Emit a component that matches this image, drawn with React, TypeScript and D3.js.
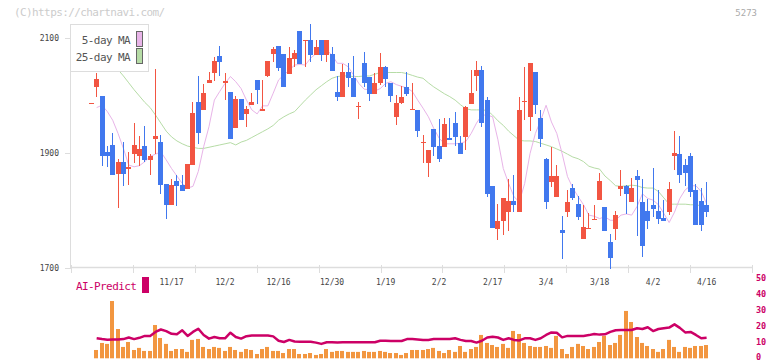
import React from 'react';
import * as d3 from 'd3';

// trading days, 10/24 .. 4/16
const dates = [
  '10/24', '10/27', '10/28', '10/29', '10/30', '10/31', '11/4', '11/5', '11/6', '11/7',
  '11/10', '11/11', '11/12', '11/13', '11/14', '11/17', '11/18', '11/19', '11/20', '11/21',
  '11/25', '11/26', '11/27', '11/28', '12/1', '12/2', '12/3', '12/4', '12/5', '12/8',
  '12/9', '12/10', '12/11', '12/12', '12/15', '12/16', '12/17', '12/18', '12/19', '12/22',
  '12/23', '12/24', '12/25', '12/26', '12/29', '12/30', '1/5', '1/6', '1/7', '1/8',
  '1/9', '1/13', '1/14', '1/15', '1/16', '1/19', '1/20', '1/21', '1/22', '1/23',
  '1/26', '1/27', '1/28', '1/29', '1/30', '2/2', '2/3', '2/4', '2/5', '2/6',
  '2/9', '2/10', '2/12', '2/13', '2/16', '2/17', '2/18', '2/19', '2/20', '2/24',
  '2/25', '2/26', '2/27', '3/2', '3/3', '3/4', '3/5', '3/6', '3/9', '3/10',
  '3/11', '3/12', '3/13', '3/16', '3/17', '3/18', '3/19', '3/23', '3/24', '3/25',
  '3/26', '3/27', '3/30', '3/31', '4/1', '4/2', '4/3', '4/6', '4/7', '4/8',
  '4/9', '4/10', '4/13', '4/14', '4/15', '4/16',
];

const opens = [
  1987, 2014, 1999, 1901, 1914, 1864, 1884, 1873, 1899, 1895,
  1912, 1888, 1924, 1919, 1846, 1810, 1851, 1844, 1838, 1879,
  1989, 1974, 2021, 2040, 2069, 2021, 2006, 1944, 1994, 1968,
  1984, 2027, 1973, 2034, 2073, 2086, 2072, 2038, 2064, 2112,
  2094, 2097, 2071, 2097, 2071, 2072, 2006, 1998, 2041, 2031,
  1980, 2057, 2032, 2003, 2021, 2050, 2022, 1963, 1987, 2015,
  1975, 1975, 1918, 1883, 1942, 1912, 1911, 1926, 1952, 1917,
  1928, 1986, 2034, 2044, 1992, 1843, 1768, 1781, 1798, 1817,
  1798, 1988, 1963, 2041, 1961, 1890, 1850, 1824, 1766, 1798,
  1839, 1811, 1751, 1768, 1785, 1818, 1806, 1745, 1768, 1837,
  1843, 1815, 1860, 1815, 1799, 1810, 1799, 1787, 1798, 1895,
  1898, 1879, 1895, 1836, 1817, 1810,
];
const highs = [
  1987, 2039, 1999, 1912, 1934, 1890, 1919, 1901, 1952, 1929,
  1947, 1899, 2046, 1931, 1846, 1855, 1861, 1861, 1881, 1989,
  2034, 2020, 2041, 2067, 2086, 2040, 2006, 1999, 1994, 1982,
  2004, 2027, 2027, 2060, 2085, 2086, 2072, 2084, 2079, 2112,
  2097, 2124, 2097, 2097, 2097, 2084, 2034, 2055, 2057, 2069,
  1989, 2076, 2032, 2039, 2074, 2051, 2022, 2001, 2017, 2041,
  2022, 1975, 1931, 1905, 1942, 1959, 1961, 1961, 1971, 1930,
  1982, 2044, 2060, 2051, 1997, 1843, 1811, 1822, 1855, 1862,
  1997, 2050, 2057, 2041, 1975, 1891, 1911, 1879, 1791, 1836,
  1846, 1825, 1810, 1796, 1810, 1866, 1806, 1759, 1799, 1870,
  1845, 1856, 1870, 1855, 1820, 1874, 1836, 1818, 1849, 1938,
  1930, 1890, 1900, 1846, 1839, 1849,
];
const lows = [
  1987, 1997, 1878, 1876, 1861, 1805, 1843, 1845, 1882, 1878,
  1885, 1861, 1899, 1829, 1786, 1810, 1808, 1834, 1838, 1879,
  1916, 1974, 2021, 2026, 2034, 1993, 1925, 1944, 1958, 1946,
  1984, 1986, 1973, 2033, 2059, 2043, 2014, 2038, 2050, 2055,
  2050, 2059, 2071, 2060, 2059, 2043, 1991, 1998, 2014, 1998,
  1959, 2015, 1991, 2003, 2019, 2015, 1988, 1949, 1985, 1999,
  1974, 1928, 1883, 1859, 1895, 1885, 1911, 1923, 1912, 1899,
  1906, 1986, 2008, 1946, 1824, 1770, 1749, 1758, 1765, 1798,
  1798, 1958, 1939, 1968, 1911, 1803, 1841, 1824, 1716, 1789,
  1819, 1784, 1751, 1768, 1784, 1818, 1765, 1699, 1749, 1826,
  1794, 1815, 1756, 1720, 1768, 1789, 1777, 1781, 1793, 1870,
  1848, 1843, 1824, 1775, 1765, 1789,
];
const closes = [
  1987, 2029, 1895, 1894, 1861, 1884, 1864, 1875, 1914, 1907,
  1888, 1895, 1930, 1845, 1810, 1844, 1843, 1834, 1881, 1970,
  1935, 2004, 2027, 2060, 2059, 2025, 1925, 1994, 1958, 1977,
  1989, 2010, 1977, 2060, 2081, 2048, 2015, 2065, 2074, 2055,
  2097, 2071, 2084, 2071, 2097, 2043, 1998, 2041, 2031, 1998,
  1982, 2021, 2003, 2022, 2050, 2028, 2000, 1987, 1997, 2003,
  1977, 1939, 1920, 1905, 1911, 1890, 1950, 1923, 1928, 1899,
  1980, 2004, 2044, 1953, 1829, 1770, 1781, 1822, 1817, 1810,
  1975, 1990, 2057, 1984, 1925, 1814, 1860, 1860, 1761, 1815,
  1821, 1789, 1771, 1770, 1786, 1851, 1765, 1718, 1792, 1843,
  1829, 1839, 1853, 1739, 1781, 1803, 1786, 1782, 1837, 1900,
  1861, 1865, 1833, 1775, 1775, 1798,
];

const ma5 = [
  null, 1979, 1983, 1972, 1957, 1934, 1908, 1879, 1876, 1878,
  1885, 1894, 1898, 1902, 1888, 1873, 1860, 1847, 1839, 1842,
  1868, 1911, 1946, 1992, 2007, 2021, 2033, 2024, 2012, 1992,
  1975, 1968, 1982, 1982, 2004, 2027, 2036, 2044, 2053, 2054,
  2053, 2065, 2073, 2076, 2079, 2070, 2056, 2056, 2050, 2036,
  2021, 2011, 2010, 2008, 2012, 2021, 2024, 2019, 2016, 2013,
  2007, 1992, 1978, 1963, 1943, 1926, 1916, 1916, 1916, 1917,
  1920, 1934, 1952, 1966, 1966, 1963, 1923, 1873, 1847, 1824,
  1815, 1847, 1899, 1934, 1957, 1983, 1954, 1934, 1899, 1859,
  1839, 1824, 1810, 1792, 1790, 1786, 1789, 1783, 1783, 1792,
  1794, 1792, 1807, 1829, 1821, 1818, 1810, 1795, 1779, 1797,
  1821, 1836, 1843, 1843, 1833, 1812,
];
const ma25 = [
  null, null, null, null, 2055, 2045, 2034, 2022, 2010, 1999,
  1988, 1979, 1966, 1952, 1938, 1928, 1921, 1916, 1912, 1910,
  1908, 1908, 1910, 1912, 1914, 1916, 1918, 1914, 1919, 1922,
  1927, 1932, 1937, 1942, 1948, 1957, 1963, 1968, 1972, 1982,
  1992, 2001, 2010, 2017, 2024, 2030, 2033, 2034, 2034, 2033,
  2033, 2034, 2034, 2037, 2040, 2040, 2040, 2040, 2040, 2038,
  2035, 2032, 2030, 2022, 2015, 2009, 2003, 1998, 1992, 1984,
  1977, 1975, 1975, 1975, 1974, 1966, 1956, 1948, 1938, 1930,
  1922, 1921, 1921, 1920, 1917, 1914, 1911, 1907, 1903, 1898,
  1893, 1890, 1885, 1877, 1874, 1872, 1860, 1852, 1843, 1842,
  1843, 1844, 1843, 1840, 1839, 1839, 1833, 1822, 1811, 1811,
  1811, 1811, 1810, 1810, 1808, 1807,
];

const volumes = [
  null, 5.2, 9.6, 9, 35.8, 18.3, 7.1, 10.2, 5.2, 6.5,
  4.6, 4.6, 20.8, 12.7, 9, 4.6, 5.8, 5.8, 4, 11.5,
  12.1, 7.1, 5.8, 7.1, 6.5, 4.6, 7.1, 5.2, 4, 5.8,
  5.2, 2.7, 5.8, 7.1, 4.6, 4.6, 3.3, 5.8, 5.8, 2.7,
  2.7, 3.3, 2.1, 2.7, 5.8, 4, 4.6, 4.6, 4, 4,
  4, 4.6, 4, 4, 4.6, 4, 3.3, 3.3, 2.1, 3.3,
  5.2, 5.2, 5.2, 5.8, 6.5, 4.6, 3.3, 5.2, 4, 7.7,
  4, 5.8, 7.1, 14.6, 9.6, 8.3, 7.1, 9, 6.5, 17.1,
  15.2, 9.6, 7.7, 7.1, 7.1, 7.7, 6.5, 14, 5.8, 2.7,
  7.1, 9, 7.7, 5.8, 7.1, 10.2, 14, 8.3, 9.6, 14.6,
  29.6, 22.7, 13.3, 9.6, 7.7, 5.8, 4, 5.8, 11.5, 7.1,
  4, 7.1, 6.5, 7.7, 7.7, 8.3,
];
const aiPredict = [
  null, 12.5, 12, 11.6, 11.8, 11.8, 12, 13, 12, 12.8,
  14, 14, 16.5, 18, 17, 15.3, 15, 17.5, 14, 16.5,
  18.5, 14.6, 12.3, 13.3, 12.5, 12.5, 16, 13.3, 12.3, 13.8,
  14.2, 14.2, 14.2, 14.2, 13.7, 11, 10.2, 11.5, 10.5, 10.4,
  10.4, 10.4, 9.8, 9, 10, 10, 9.8, 10, 10, 10,
  10, 10, 10, 10, 11, 11, 10.8, 10.8, 10.8, 12,
  12, 11.8, 11.5, 11.5, 12, 12, 12, 12, 12.5, 11.5,
  10.8, 10.8, 9.8, 11, 13, 13.5, 13, 11.5, 12.5, 11.5,
  11.2, 12.5, 12.5, 11.5, 12.5, 14.6, 16.2, 16, 13.1, 14,
  14, 14, 14, 14.5, 15.2, 14.8, 15, 16.5, 17.5, 17.7,
  17.7, 17.7, 18.8, 18.3, 19.4, 17, 18.3, 18.8, 19.2, 21.2,
  19, 16.2, 16.5, 14.6, 12.5, 12.8,
];

const priceTicks = [1700, 1900, 2100];
const volumeTicks = [0, 10, 20, 30, 40, 50];
const labelEvery = 10;
const firstLabel = 15;

const UP = '#f25542';
const DOWN = '#4178ee';
const MA5_COLOR = '#e8b4e8';
const MA25_COLOR = '#b6dca6';
const AI_COLOR = '#cc0066';
const VOL_COLOR = '#f29640';
const AXIS = '#dddddd';
const MONO = '"DejaVu Sans Mono", "Liberation Mono", monospace';

export default function App() {
  const x = d3.scalePoint<string>().domain(dates).range([91.3, 706.6]);
  const y = d3.scaleLinear().domain([1700, 2100]).range([268, 38]);
  const yv = d3.scaleLinear().domain([0, 50]).range([358.3, 278.3]);
  const grid = d3.scaleLinear().domain([0, 11]).range([71, 752]);

  const maLine = d3
    .line<number | null>()
    .defined((d) => d != null)
    .x((_, i) => x(dates[i])!)
    .y((d) => y(d as number));

  const aiLine = d3
    .line<number | null>()
    .defined((d) => d != null)
    .x((_, i) => x(dates[i])!)
    .y((d) => yv(d as number));

  return (
    <div>
      <style>{`body{margin:0}`}</style>
      <svg width={772} height={361} style={{ display: 'block', fontFamily: MONO }}>
        <rect width={772} height={361} fill="#fff" />
        <text x={14} y={16} fontSize={11} letterSpacing={-0.6} fill="#cccccc">
          (C)https://chartnavi.com/
        </text>
        <text x={757} y={16} fontSize={9} textAnchor="end" fill="#aaaaaa">
          5273
        </text>

        {/* axes */}
        <line x1={70.5} x2={70.5} y1={24} y2={268} stroke={AXIS} />
        <line x1={70} x2={752} y1={267.5} y2={267.5} stroke={AXIS} strokeWidth={1.5} />
        {grid.ticks(11).map((t) => (
          <line key={t} x1={Math.round(grid(t)) + 0.5} x2={Math.round(grid(t)) + 0.5} y1={265} y2={273} stroke={AXIS} />
        ))}
        {priceTicks.map((t) => (
          <g key={t}>
            <line x1={65} x2={71} y1={Math.round(y(t)) + 0.5} y2={Math.round(y(t)) + 0.5} stroke={AXIS} />
            <text x={59} y={y(t) + 3} fontSize={8} textAnchor="end" fill="#444">
              {t}
            </text>
          </g>
        ))}
        {dates.map((d, i) =>
          i >= firstLabel && (i - firstLabel) % labelEvery === 0 ? (
            <text key={d} x={x(d)} y={285} fontSize={8} textAnchor="middle" fill="#444">
              {d}
            </text>
          ) : null
        )}

        {/* moving averages */}
        <path d={maLine(ma25) || ''} fill="none" stroke={MA25_COLOR} strokeWidth={1} />
        <path d={maLine(ma5) || ''} fill="none" stroke={MA5_COLOR} strokeWidth={1} />

        {/* candles */}
        {dates.map((d, i) => {
          const o = opens[i];
          const c = closes[i];
          const left = Math.round(x(d)! - 2.5);
          const top = Math.round(y(Math.max(o, c)));
          const bot = Math.round(y(Math.min(o, c)));
          const color = c >= o ? UP : DOWN;
          const hTop = Math.round(y(highs[i]));
          const hBot = Math.round(y(lows[i]));
          return (
            <g key={d} fill={color}>
              <rect x={left + 2} width={1} y={hTop} height={Math.max(1, hBot - hTop)} />
              <rect x={left} width={5} y={top} height={Math.max(1, bot - top)} />
            </g>
          );
        })}

        {/* legend */}
        <rect x={70.5} y={24.5} width={78} height={47} fill="#fff" stroke={AXIS} />
        <text x={130} y={44} fontSize={11} letterSpacing={-0.6} textAnchor="end" fill="#555">
          5-day MA
        </text>
        <text x={130} y={61} fontSize={11} letterSpacing={-0.6} textAnchor="end" fill="#555">
          25-day MA
        </text>
        <rect x={136.5} y={31.5} width={6} height={15} fill={MA5_COLOR} stroke="#666" />
        <rect x={136.5} y={48.5} width={6} height={15} fill={MA25_COLOR} stroke="#666" />

        {/* AI-Predict panel */}
        <text x={76} y={290} fontSize={11} letterSpacing={-0.6} fill={AI_COLOR}>
          AI-Predict
        </text>
        <rect x={142} y={277} width={7} height={16} fill={AI_COLOR} />
        {dates.map((d, i) =>
          volumes[i] != null ? (
            <rect
              key={d}
              x={Math.round(x(d)! - 2.5)}
              width={4}
              y={yv(volumes[i] as number)}
              height={yv(0) - yv(volumes[i] as number)}
              fill={VOL_COLOR}
            />
          ) : null
        )}
        <path d={aiLine(aiPredict) || ''} fill="none" stroke={AI_COLOR} strokeWidth={2.5} strokeLinejoin="round" />
        {volumeTicks.map((t) => (
          <text key={t} x={756} y={Math.min(yv(t) + 3, 359.5)} fontSize={8.5} fontWeight="bold" fill={AI_COLOR}>
            {t}
          </text>
        ))}
      </svg>
    </div>
  );
}
